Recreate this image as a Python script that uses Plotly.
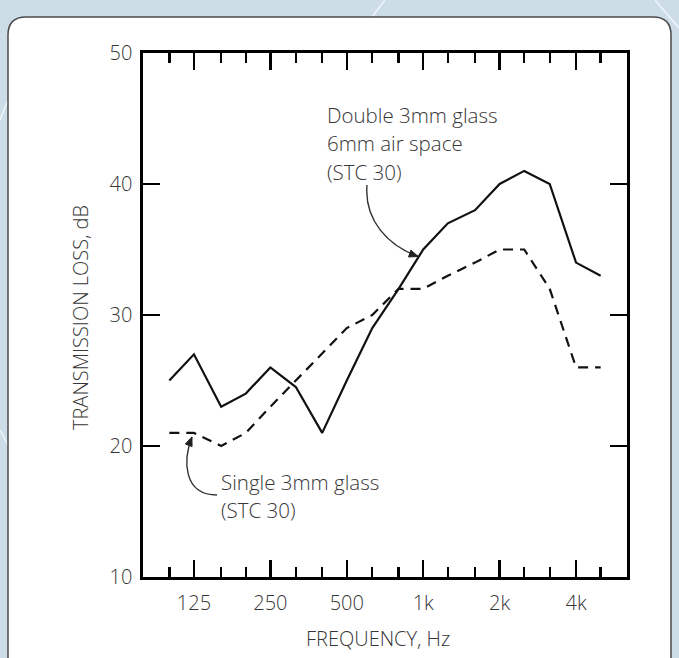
import math
import plotly.graph_objects as go

# ---------------- data ----------------
freq = [100, 125, 160, 200, 250, 315, 400, 500, 630, 800, 1000, 1250, 1600, 2000, 2500, 3150, 4000, 5000]
double_glass = [25, 27, 23, 24, 26, 24.5, 21, 25, 29, 32, 35, 37, 38, 40, 41, 40, 34, 33]
single_glass = [21, 21, 20, 21, 23, 25, 27, 29, 30, 32, 32, 33, 34, 35, 35, 32, 26, 26]

major_ticks = [125, 250, 500, 1000, 2000, 4000]
major_labels = ["125", "250", "500", "1k", "2k", "4k"]
minor_ticks = [100, 160, 200, 315, 400, 630, 800, 1250, 1600, 2500, 3150, 5000]
y_ticks = [10, 20, 30, 40, 50]

double_label = ["Double 3mm glass", "6mm air space", "(STC 30)"]
single_label = ["Single 3mm glass", "(STC 30)"]

# ---------------- layout geometry ----------------
FIG_W, FIG_H = 679, 658
ML, MR, MT, MB = 143, 52, 53, 81
PW = FIG_W - ML - MR
PH = FIG_H - MT - MB
XMIN = math.log10(125) - (2 / 3) * math.log10(2)
XMAX = math.log10(4000) + (2 / 3) * math.log10(2)
YMIN, YMAX = 10, 50

TEXT = "#363636"
FONT = "Open Sans"


def to_px(f, v):
    X = ML + PW * (math.log10(f) - XMIN) / (XMAX - XMIN)
    Y = MT + PH * (YMAX - v) / (YMAX - YMIN)
    return X, Y


def paper(X, Y):
    return (X - ML) / PW, (MT + PH - Y) / PH


def path_str(cmds):
    out = []
    for c in cmds:
        if isinstance(c, str):
            out.append(c)
        else:
            px, py = paper(*c)
            out.append(f"{px:.5f},{py:.5f}")
    return " ".join(out)


def arrow_head(tip, frm, length=9, half=3.6):
    dx, dy = tip[0] - frm[0], tip[1] - frm[1]
    n = math.hypot(dx, dy)
    ux, uy = dx / n, dy / n
    bx, by = tip[0] - ux * length, tip[1] - uy * length
    p1 = (bx - uy * half, by + ux * half)
    p2 = (bx + uy * half, by - ux * half)
    return path_str(["M", tip, "L", p1, "L", p2, "Z"])


fig = go.Figure()

fig.add_trace(go.Scatter(
    x=freq, y=double_glass, mode="lines", name="Double 3mm glass",
    line=dict(color="#111111", width=2.2), showlegend=False, hoverinfo="skip"))
fig.add_trace(go.Scatter(
    x=freq, y=single_glass, mode="lines", name="Single 3mm glass",
    line=dict(color="#111111", width=2.2, dash="10px,7px"), showlegend=False, hoverinfo="skip"))

shapes = []
# faint texture streaks on the blue background
for (a, b) in [((385, 0), (372, 17)), ((655, 0), (679, 28)), ((0, 120), (8, 100)), ((0, 430), (8, 445))]:
    shapes.append(dict(type="path", xref="paper", yref="paper", layer="below",
                       path=path_str(["M", a, "L", b]),
                       line=dict(color="rgba(255,255,255,0.7)", width=1.5)))
# white rounded panel on blue background
r = 18
x0p, y0p, x1p, y1p = 8, 17, 671, 720
panel = path_str([
    "M", (x0p + r, y0p), "L", (x1p - r, y0p), "Q", (x1p, y0p), (x1p, y0p + r),
    "L", (x1p, y1p), "L", (x0p, y1p), "L", (x0p, y0p + r), "Q", (x0p, y0p), (x0p + r, y0p), "Z"])
shapes.append(dict(type="path", path=panel, xref="paper", yref="paper", layer="below",
                   fillcolor="white", line=dict(color="#4a4a4a", width=1.5)))

# curved arrow for the double glazing label
tip_d = to_px(1000, 35)
tip_d = (tip_d[0] - 5, tip_d[1] + 7)
s_d = (367, 185)
c1_d = (364, 220)
c2_d = (388, 246)
shapes.append(dict(type="path", xref="paper", yref="paper",
                   path=path_str(["M", s_d, "C", c1_d, c2_d, tip_d]),
                   line=dict(color="#333333", width=1.4)))
shapes.append(dict(type="path", xref="paper", yref="paper", path=arrow_head(tip_d, c2_d),
                   fillcolor="#222222", line=dict(color="#222222", width=1)))

# curved arrow for the single glazing label
tip_s = to_px(125, 21)
tip_s = (tip_s[0] - 2, tip_s[1] + 4)
s_s = (217, 495)
c1_s = (183, 495)
c2_s = (183, 460)
shapes.append(dict(type="path", xref="paper", yref="paper",
                   path=path_str(["M", s_s, "C", c1_s, c2_s, tip_s]),
                   line=dict(color="#333333", width=1.4)))
shapes.append(dict(type="path", xref="paper", yref="paper", path=arrow_head(tip_s, c2_s),
                   fillcolor="#222222", line=dict(color="#222222", width=1)))

annotations = []
for i, line in enumerate(double_label):
    xp, yp = paper(325, 115 + 28.3 * i)
    annotations.append(dict(text=line, x=xp, y=yp, xref="paper", yref="paper",
                            xanchor="left", yanchor="middle", showarrow=False,
                            font=dict(family=FONT, size=20.5, color=TEXT, weight=300)))
for i, line in enumerate(single_label):
    xp, yp = paper(219, 481.5 + 28.3 * i)
    annotations.append(dict(text=line, x=xp, y=yp, xref="paper", yref="paper",
                            xanchor="left", yanchor="middle", showarrow=False,
                            font=dict(family=FONT, size=20.5, color=TEXT, weight=300)))

# axis titles
xp, yp = paper(80, 318)
annotations.append(dict(text="TRANSMISSION LOSS, dB", x=xp, y=yp, xref="paper", yref="paper",
                        textangle=-90, xanchor="center", yanchor="middle", showarrow=False,
                        font=dict(family=FONT, size=20, color=TEXT, weight=300)))
xp, yp = paper(378, 638)
annotations.append(dict(text="FREQUENCY, Hz", x=xp, y=yp, xref="paper", yref="paper",
                        xanchor="center", yanchor="middle", showarrow=False,
                        font=dict(family=FONT, size=20, color=TEXT, weight=300)))

fig.update_layout(
    width=FIG_W, height=FIG_H,
    margin=dict(l=ML, r=MR, t=MT, b=MB, autoexpand=False),
    paper_bgcolor="#cddde8",
    plot_bgcolor="rgba(0,0,0,0)",
    shapes=shapes,
    annotations=annotations,
    showlegend=False,
)

fig.update_xaxes(
    type="log", range=[XMIN, XMAX],
    showline=True, linecolor="black", linewidth=2.6, mirror="ticks",
    showgrid=False, zeroline=False,
    tickmode="array", tickvals=major_ticks, ticktext=major_labels,
    ticks="inside", ticklen=17, tickwidth=2.4, tickcolor="black",
    tickfont=dict(family=FONT, size=20, color=TEXT, weight=300),
    ticklabelstandoff=6,
    minor=dict(tickmode="array", tickvals=minor_ticks, ticks="inside",
               ticklen=10, tickwidth=2.4, tickcolor="black", showgrid=False),
)
fig.update_yaxes(
    range=[YMIN, YMAX],
    showline=True, linecolor="black", linewidth=2.6, mirror="ticks",
    showgrid=False, zeroline=False,
    tickmode="array", tickvals=y_ticks,
    ticks="inside", ticklen=17, tickwidth=2.4, tickcolor="black",
    tickfont=dict(family=FONT, size=20, color=TEXT, weight=300),
    ticklabelstandoff=4,
)

fig.write_html(
    "out.html",
    config={"displayModeBar": False, "staticPlot": True},
    post_script="document.body.style.margin='0';document.body.style.overflow='hidden';",
)
